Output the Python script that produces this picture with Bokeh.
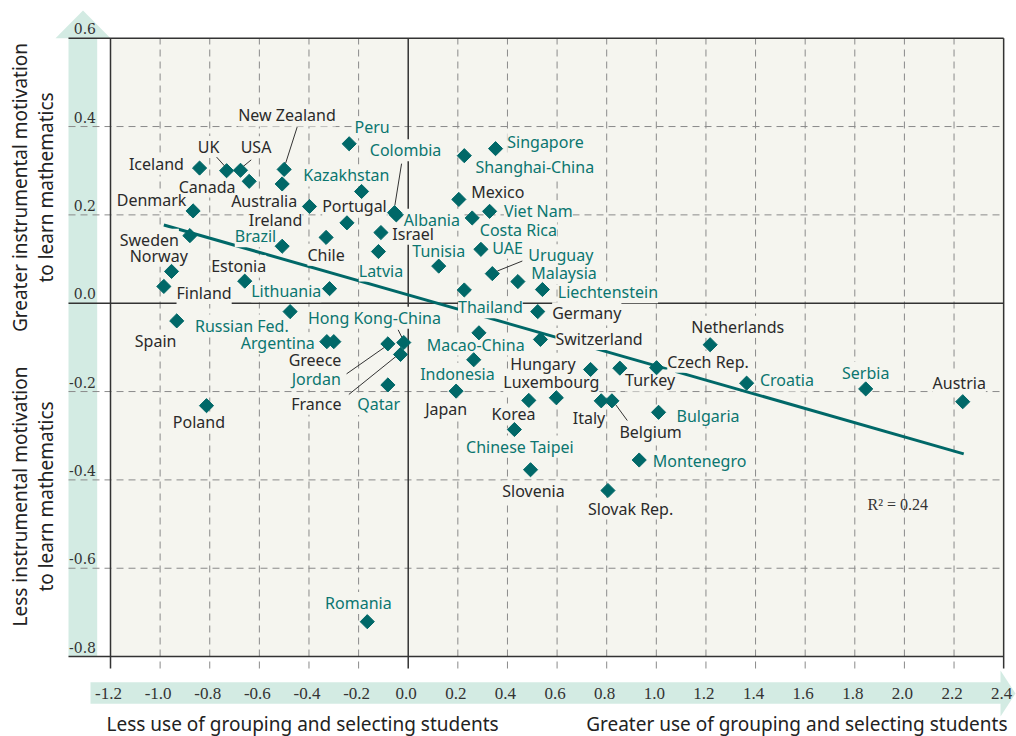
import numpy as np
from bokeh.plotting import figure
from bokeh.models import ColumnDataSource
from bokeh.core.properties import value
from bokeh.embed import file_html
from bokeh.resources import INLINE

# ---------------- data ----------------
countries = ["Iceland", "UK", "USA", "Canada", "New Zealand", "Australia", "Portugal", "Peru",
             "Kazakhstan", "Ireland", "Chile", "Colombia", "Albania", "Israel", "Latvia", "Brazil",
             "Denmark", "Sweden", "Norway", "Finland", "Estonia", "Lithuania", "Singapore",
             "Shanghai-China", "Mexico", "Viet Nam", "Costa Rica", "UAE", "Tunisia", "Uruguay",
             "Malaysia", "Liechtenstein", "Thailand", "Germany", "Spain", "Poland", "Russian Fed.",
             "Hong Kong-China", "Argentina", "Greece", "Jordan", "France", "Qatar", "Macao-China",
             "Indonesia", "Japan", "Switzerland", "Hungary", "Turkey", "Czech Rep.", "Korea",
             "Luxembourg", "Italy", "Belgium", "Chinese Taipei", "Slovenia", "Slovak Rep.",
             "Montenegro", "Bulgaria", "Netherlands", "Croatia", "Serbia", "Austria", "Romania"]
grouping_index = [-0.841, -0.732, -0.676, -0.641, -0.500, -0.508, -0.398, -0.238,
                  -0.188, -0.247, -0.331, -0.055, -0.048, -0.110, -0.120, -0.508,
                  -0.867, -0.880, -0.954, -0.985, -0.659, -0.317, 0.352,
                  0.226, 0.204, 0.328, 0.258, 0.293, 0.123, 0.339,
                  0.442, 0.541, 0.226, 0.522, -0.933, -0.813, -0.476,
                  -0.018, -0.328, -0.300, -0.082, -0.031, -0.082, 0.285,
                  0.264, 0.193, 0.533, 0.735, 0.853, 1.001, 0.486,
                  0.597, 0.778, 0.821, 0.428, 0.493, 0.805,
                  0.931, 1.009, 1.217, 1.364, 1.844, 2.235, -0.165]
motivation_index = [0.306, 0.300, 0.301, 0.276, 0.303, 0.270, 0.219, 0.361,
                    0.253, 0.182, 0.149, 0.205, 0.200, 0.160, 0.117, 0.129,
                    0.209, 0.153, 0.072, 0.038, 0.050, 0.033, 0.350,
                    0.334, 0.235, 0.208, 0.193, 0.122, 0.084, 0.067,
                    0.049, 0.031, 0.030, -0.019, -0.040, -0.232, -0.019,
                    -0.089, -0.087, -0.087, -0.092, -0.116, -0.185, -0.067,
                    -0.128, -0.199, -0.082, -0.150, -0.147, -0.146, -0.220,
                    -0.214, -0.221, -0.221, -0.286, -0.377, -0.424,
                    -0.355, -0.247, -0.094, -0.181, -0.194, -0.223, -0.721]
oecd_member = ["Iceland", "UK", "USA", "Canada", "New Zealand", "Australia", "Portugal", "Ireland",
               "Chile", "Israel", "Denmark", "Sweden", "Norway", "Finland", "Estonia", "Mexico",
               "Germany", "Spain", "Poland", "Greece", "France", "Japan", "Switzerland", "Hungary",
               "Turkey", "Czech Rep.", "Korea", "Luxembourg", "Italy", "Belgium", "Slovenia",
               "Slovak Rep.", "Netherlands", "Austria"]

trend_x = [-0.985, 2.239]
trend_y = [0.177, -0.341]
r_squared = 0.24

x_ticks = [-1.2, -1.0, -0.8, -0.6, -0.4, -0.2, 0.0, 0.2, 0.4, 0.6, 0.8, 1.0, 1.2, 1.4, 1.6, 1.8, 2.0, 2.2, 2.4]
x_tick_labels = ["-1.2", "-1.0", "-0.8", "-0.6", "-0.4", "-0.2", "0.0", "0.2", "0.4", "0.6", "0.8",
                 "1.0", "1.2", "1.4", "1.6", "1.8", "2.0", "2.2", "2.4"]
y_ticks = [0.6, 0.4, 0.2, 0.0, -0.2, -0.4, -0.6, -0.8]
y_tick_labels = ["0.6", "0.4", "0.2", "0.0", "-0.2", "-0.4", "-0.6", "-0.8"]

# ---------------- label layout (pixel offsets from each marker) ----------------
label_layout = {
    "Iceland": ("right", -15.7, -4.4), "UK": ("center", -18, -23.6), "USA": ("center", 15.5, -23),
    "Canada": ("right", -13.7, 5.3), "New Zealand": ("center", 2.8, -54), "Australia": ("right", 15, 16.7),
    "Portugal": ("left", 12.7, 0), "Peru": ("left", 5.3, -16.6), "Kazakhstan": ("center", -15.3, -16),
    "Ireland": ("right", -44.6, -3.3), "Chile": ("center", 0, 17.3), "Colombia": ("center", 11, -62.3),
    "Albania": ("left", 7.5, 4.9), "Israel": ("left", 11.4, 1.3), "Latvia": ("center", 2.5, 19),
    "Brazil": ("right", -6, -10), "Denmark": ("right", -6.7, -11), "Sweden": ("right", -11, 4),
    "Norway": ("right", 16.3, -15.7), "Finland": ("left", 12.7, 6.6), "Estonia": ("center", -6, -15),
    "Lithuania": ("right", -8.3, 2.7), "Singapore": ("left", 11.7, -6.6), "Shanghai-China": ("left", 11.3, 11.7),
    "Mexico": ("left", 12.4, -7.7), "Viet Nam": ("left", 14.3, 0), "Costa Rica": ("left", 7.6, 12),
    "UAE": ("left", 11.4, -1.7), "Tunisia": ("center", 0, -14.7), "Uruguay": ("left", 36, -18.3),
    "Malaysia": ("left", 13.4, -8.7), "Liechtenstein": ("left", 15.3, 2.7), "Thailand": ("center", 26.1, 17.4),
    "Germany": ("left", 14.4, 1.7), "Spain": ("center", -21.1, 19.7), "Poland": ("center", -7.6, 16.7),
    "Russian Fed.": ("right", -1.4, 14), "Hong Kong-China": ("center", -29.3, -24.7),
    "Argentina": ("right", -12, 1.7), "Greece": ("center", -18.8, 18.3), "Jordan": ("center", -71.6, 35),
    "France": ("center", -84.2, 49.3), "Qatar": ("center", -9.3, 19), "Macao-China": ("center", -3.3, 11.7),
    "Indonesia": ("center", -16.3, 14), "Japan": ("center", -9.9, 17.6), "Switzerland": ("left", 15, -0.4),
    "Hungary": ("right", -15, -5.7), "Turkey": ("center", 30.2, 12.3), "Czech Rep.": ("left", 10.7, -6),
    "Korea": ("center", -15.3, 14), "Luxembourg": ("center", -5, -15.6), "Italy": ("center", -12.3, 17),
    "Belgium": ("center", 38.7, 31.4), "Chinese Taipei": ("center", 5.5, 17), "Slovenia": ("center", 2.9, 21.7),
    "Slovak Rep.": ("center", 22.7, 18), "Montenegro": ("left", 13.6, 1.4), "Bulgaria": ("left", 18, 3.3),
    "Netherlands": ("center", 27.6, -18), "Croatia": ("left", 13.3, -2.7), "Serbia": ("center", 0, -16),
    "Austria": ("center", -3.5, -18.7), "Romania": ("center", -8.9, -18.7),
}
leader_layout = {
    "UK": (-10, -13.6, -1, -3.6), "USA": (10.7, -10.4, 1.7, -3), "New Zealand": (13, -42.3, 1.3, -5.7),
    "Colombia": (7, -49, 0.3, -7.3), "Uruguay": (30, -12.6, 5, -2.6), "Hong Kong-China": (-5.6, -12.7, -1.6, -4.7),
    "Jordan": (-41.3, 30, -3.3, 3.4), "France": (-51.7, 40, -3.3, 1), "Belgium": (15.4, 19.7, 3.7, 3.7),
}

# ---------------- styling ----------------
TEAL = "#006868"
TEAL_TXT = "#0b7670"
DARK = "#2a2a2a"
CREAM = "#f5f5ef"
BAND = "#d3ebe3"
GRID = "#8a8a8a"
LABEL_FONT = value("Noto Sans")

W, H = 1016, 736
PXX, PXY = 248.1, 441.7            # pixels per data unit


def X(px):
    return -1.2 + (px - 110) / PXX


def Y(py):
    return 0.6 - (py - 37.7) / PXY


p = figure(width=W, height=H, x_range=(X(0), X(W)), y_range=(Y(H), Y(0)),
           output_backend="svg", toolbar_location=None, min_border=0,
           x_axis_type=None, y_axis_type=None, outline_line_color=None,
           background_fill_color="white", border_fill_color="white")

xmin, xmax = x_ticks[0], x_ticks[-1]
ymin, ymax = y_ticks[-1], y_ticks[0]

# plot background and the two arrow bands
p.quad(left=[xmin], right=[xmax], bottom=[ymin], top=[ymax], fill_color=CREAM, line_color=None)
p.quad(left=[X(68)], right=[X(96.7)], bottom=[ymin], top=[ymax], fill_color=BAND, line_color=None)
p.patch([X(55), X(110), X(82.5)], [ymax, ymax, Y(10)], fill_color=BAND, line_color=None)
p.quad(left=[X(90)], right=[X(1001)], bottom=[Y(703.3)], top=[Y(681.7)], fill_color=BAND, line_color=None)
p.patch([X(1000), X(1000), X(1015)], [Y(670), Y(716), Y(693)], fill_color=BAND, line_color=None)

# grid
h_dash = [t for t in y_ticks if t not in (ymin, ymax, 0.0)]
h_solid = [ymax, 0.0, ymin]
v_dash = [t for t in x_ticks if t not in (xmin, xmax, 0.0)]
v_solid = [xmin, 0.0, xmax]
p.segment(x0=[X(68)] * len(h_dash), x1=[xmax] * len(h_dash), y0=h_dash, y1=h_dash,
          line_color=GRID, line_width=1, line_dash="7 5")
p.segment(x0=v_dash, x1=v_dash, y0=[Y(668)] * len(v_dash), y1=[ymax] * len(v_dash),
          line_color=GRID, line_width=1, line_dash="7 5")
p.segment(x0=[X(68)] * 3, x1=[xmax] * 3, y0=h_solid, y1=h_solid, line_color="#333333", line_width=1.5)
p.segment(x0=v_solid, x1=v_solid, y0=[Y(668)] * 3, y1=[ymax] * 3, line_color="#333333", line_width=1.5)

# trend line
p.line(trend_x, trend_y, line_color=TEAL, line_width=3)

# label sources
rows = {"left": [], "center": [], "right": []}
for c, gx, my in zip(countries, grouping_index, motivation_index):
    al, dx, dy = label_layout[c]
    rows[al].append((c, gx, my, dx, dy, DARK if c in oecd_member else TEAL_TXT))
sources = {}
for al, r in rows.items():
    sources[al] = ColumnDataSource(dict(
        name=[a[0] for a in r], x=[a[1] for a in r], y=[a[2] for a in r],
        dx=[a[3] for a in r], dy=[a[4] for a in r], col=[a[5] for a in r]))

# label background pass (hides lines behind labels)
for al, src in sources.items():
    p.text(x="x", y="y", text="name", source=src, x_offset="dx", y_offset="dy",
           text_align=al, text_baseline="middle", text_font=LABEL_FONT, text_font_size="16px",
           text_alpha=0, background_fill_color=CREAM, padding=0)

# leader lines
lx0, ly0, lx1, ly1 = [], [], [], []
for c, gx, my in zip(countries, grouping_index, motivation_index):
    if c in leader_layout:
        a, b, cc, d = leader_layout[c]
        lx0.append(gx + a / PXX); ly0.append(my - b / PXY)
        lx1.append(gx + cc / PXX); ly1.append(my - d / PXY)
p.segment(x0=lx0, y0=ly0, x1=lx1, y1=ly1, line_color="#333333", line_width=1)

# markers
p.scatter(grouping_index, motivation_index, marker="square", angle=np.pi / 4, size=10,
          fill_color=TEAL, line_color=TEAL, line_width=1)

# label texts
for al, src in sources.items():
    p.text(x="x", y="y", text="name", source=src, x_offset="dx", y_offset="dy",
           text_align=al, text_baseline="middle", text_font=LABEL_FONT, text_font_size="16px",
           text_color="col")

# tick labels (y labels sit just above their grid line, on the band)
p.text(x=[X(95.5)] * len(y_ticks), y=[t + 9.5 / PXY for t in y_ticks], text=y_tick_labels,
       text_align="right", text_baseline="middle", text_font=value("DejaVu Serif"),
       text_font_size="14px", text_color="#333333")
p.text(x=x_ticks, y=[Y(693)] * len(x_ticks), text=x_tick_labels, text_align="center",
       text_baseline="middle", x_offset=-2, text_font=value("Liberation Serif"),
       text_font_size="17px", text_color="#333333")

# axis titles
TITLE_FONT = value("Noto Sans")
p.text(x=[X(19), X(45)], y=[Y(187), Y(187)],
       text=["Greater instrumental motivation", "to learn mathematics"],
       angle=np.pi / 2, text_align="center", text_baseline="middle",
       text_font=TITLE_FONT, text_font_size="19px", text_color="#222222")
p.text(x=[X(19), X(45)], y=[Y(496), Y(496)],
       text=["Less instrumental motivation", "to learn mathematics"],
       angle=np.pi / 2, text_align="center", text_baseline="middle",
       text_font=TITLE_FONT, text_font_size="19px", text_color="#222222")
p.text(x=[X(106)], y=[Y(723)], text=["Less use of grouping and selecting students"],
       text_align="left", text_baseline="middle", text_font=TITLE_FONT,
       text_font_size="19px", text_color="#222222")
p.text(x=[X(1007)], y=[Y(723)], text=["Greater use of grouping and selecting students"],
       text_align="right", text_baseline="middle", text_font=TITLE_FONT,
       text_font_size="19px", text_color="#222222")

# R squared
p.text(x=[X(867)], y=[Y(504)], text=[f"R\u00b2 = {r_squared:.2f}"], text_align="left",
       text_baseline="middle", text_font=value("Liberation Serif"), text_font_size="16px",
       text_color="#333333")

open("out.html", "w").write(file_html(p, INLINE))
